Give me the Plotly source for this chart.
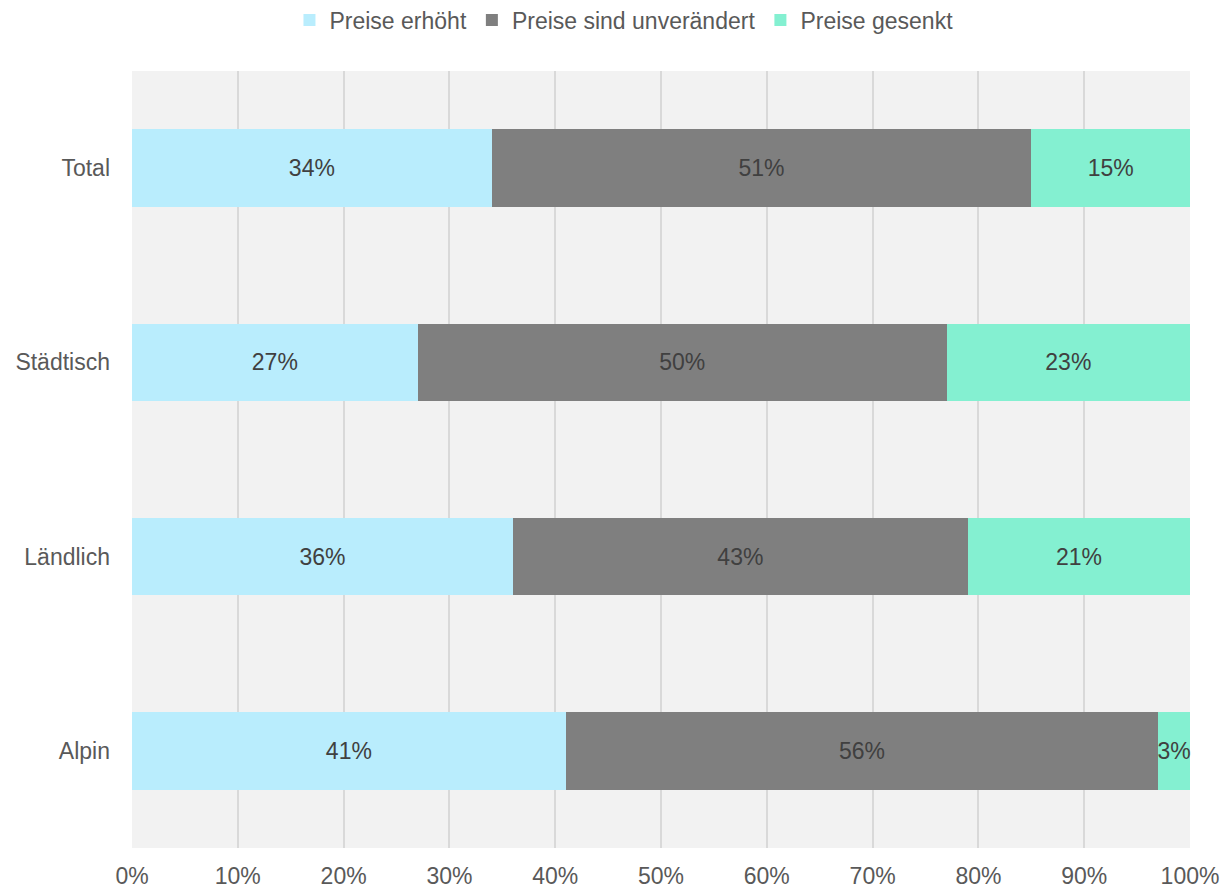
import plotly.graph_objects as go

categories = ["Total", "Städtisch", "Ländlich", "Alpin"]
series_names = ["Preise erhöht", "Preise sind unverändert", "Preise gesenkt"]
erhoeht = [34, 27, 36, 41]
unveraendert = [51, 50, 43, 56]
gesenkt = [15, 23, 21, 3]
tick_vals = [0, 10, 20, 30, 40, 50, 60, 70, 80, 90, 100]
tick_text = [f"{v}%" for v in tick_vals]

colors = ["#b9edfd", "#7f7f7f", "#84f0d1"]
font_family = "Liberation Sans, Arial, sans-serif"
fs = 23

fig = go.Figure()
for name, vals, col in zip(series_names, [erhoeht, unveraendert, gesenkt], colors):
    fig.add_trace(go.Bar(
        y=categories, x=vals, name=name, orientation="h",
        marker=dict(color=col, line=dict(width=0)),
        text=[f"{v}%" for v in vals], textposition="inside",
        insidetextanchor="middle", textangle=0,
        textfont=dict(family=font_family, size=fs, color="#404040"),
        cliponaxis=False,
    ))

fig.update_layout(
    barmode="stack", bargap=0.6,
    width=1225, height=889,
    margin=dict(l=132, r=35, t=71, b=41, autoexpand=False),
    paper_bgcolor="white", plot_bgcolor="#f2f2f2",
    font=dict(family=font_family, size=fs, color="#595959"),
    uniformtext=dict(minsize=fs, mode="show"),
    legend=dict(orientation="h", x=0.465, xanchor="center",
                y=1 - 20 / 889, yanchor="middle", yref="container",
                font=dict(size=fs, color="#595959"), traceorder="normal",
                itemwidth=30, tracegroupgap=0),
    xaxis=dict(range=[0, 100], tickvals=tick_vals, ticktext=tick_text,
               showgrid=True, gridcolor="#d9d9d9", gridwidth=2, zeroline=False,
               ticks="", ticklabelstandoff=12,
               tickfont=dict(size=fs, color="#595959"), fixedrange=True),
    yaxis=dict(categoryorder="array", categoryarray=categories, autorange="reversed",
               showgrid=False, ticks="", ticklabelstandoff=21,
               tickfont=dict(size=fs, color="#595959")),
)

fig.write_html("out.html")
